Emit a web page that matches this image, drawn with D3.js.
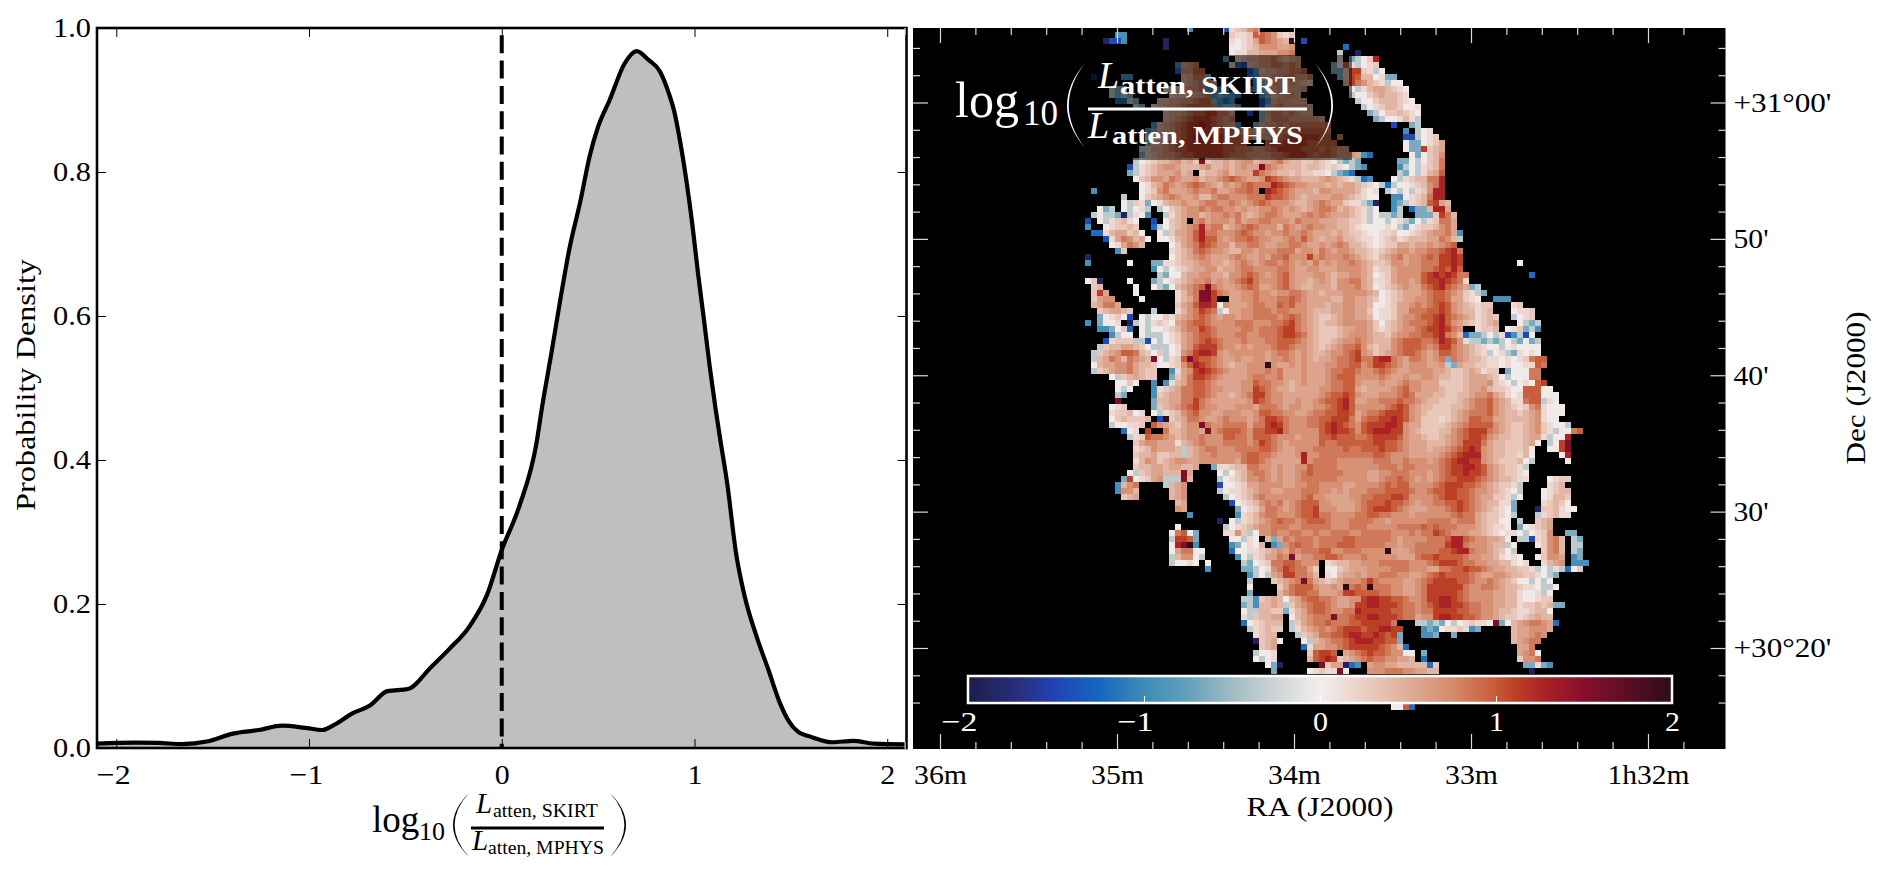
<!DOCTYPE html>
<html><head><meta charset="utf-8">
<style>html,body{margin:0;padding:0;background:#fff;overflow:hidden}
text{font-family:"Liberation Serif",serif}</style>
<script src="https://cdnjs.cloudflare.com/ajax/libs/d3/7.8.5/d3.min.js"></script>
</head><body><svg id="fig" width="1887" height="876"></svg>
<script>
// Kernel density of the attenuated luminosity ratio
const densityX=[-2.1,-1.9,-1.78,-1.66,-1.53,-1.395,-1.26,-1.14,-1.02,-.93,-.87,-.775,-.684,-.593,-.486,-.365,-.274,-.167,-.076,0,.09,.18,.21,.258,.304,.35,.41,.456,.5,.56,.638,.7,.76,.82,.866,.897,.927,.957,.988,1.018,1.049,1.079,1.11,1.134,1.17,1.216,1.261,1.322,1.383,1.444,1.49,1.535,1.61,1.717,1.824,1.93,2.1];
const densityY=[.006,.0074,.007,.0055,.009,.02,.025,.031,.028,.025,.032,.048,.059,.079,.082,.113,.137,.169,.213,.275,.335,.423,.475,.549,.623,.692,.762,.822,.863,.9,.951,.968,.956,.94,.91,.882,.84,.79,.729,.66,.595,.53,.47,.428,.367,.27,.21,.155,.109,.062,.037,.023,.015,.008,.01,.006,.005];
const xTicks=[-2,-1,0,1,2], yTicks=[0,.2,.4,.6,.8,1];
const raMajor=[36,35,34,33,32], raLabels=["36m","35m","34m","33m","1h32m"];
const decMajor=[60,50,40,30,20], decLabels=["+31°00'","50'","40'","30'","+30°20'"];
const barTicks=[-2,-1,0,1,2];
// Diverging palette: data value -> colour
const paletteV=[-2,-1.7,-1.5,-1.25,-1,-.75,-.5,-.25,0,.25,.5,.75,1,1.1,1.3,1.5,1.75,2];
const paletteC=["#1d1d4b","#28307f","#2243b6","#1567bd","#3e8bb8","#64a0bb","#a0bcc4","#d0d5d6","#f2eeee","#ebcfc3","#dfae9a","#d58b6d","#c65a38","#bd4227","#a81e24","#860f2c","#5a0e24","#2d0c18"];
// One character per map cell; "." is a cell with no data
const cellCodes="abcdef0123456789xy";
const cellValues=[-1.9,-1.45,-1.2,-.95,-.65,-.35,.03,.17,.3,.44,.57,.7,.84,.98,1.12,1.28,1.55,2];
// Map rows, top to bottom: [first column, codes] runs
const mapRows=[
[[46,"d"],[52,"b12356"]],
[[34,"dd"],[53,"21127765"],[61,"212"]],
[[32,"abbd"],[42,"a"],[53,"1012476543"],[63,"y"],[65,"b"]],
[[42,"a"],[53,"00123555445"],[72,"c"]],
[[53,"01133444556"],[71,"f"],[74,"a"]],
[[52,"d"],[54,"2344556"],[61,"4345"],[71,"1"],[73,"ef029"]],
[[44,"d456"],[53,"2cb3455"],[60,"66565"],[70,"e0"],[72,"71f012"]],
[[44,"c5577"],[56,"bd34455667"],[70,"ee288"],[75,"21f0"]],
[[30,"a"],[35,"dd"],[45,"3466e"],[56,"cd44556655"],[66,"6"],[71,"e287"],[75,"3301"],[79,"ee"]],
[[45,"345665"],[56,".de4554543"],[66,"2"],[72,"386"],[75,"5321"],[79,"f0"],[81,"0"]],
[[33,"fef"],[42,"2334556ddc"],[52,"c"],[56,"cde345"],[62,"3445"],[73,"0f"],[75,"1344"],[79,"3210"]],
[[33,"fefe"],[43,"2334456ded"],[53,"dc"],[58,"de345"],[63,"54"],[73,"f0"],[75,"0234"],[79,"3321"]],
[[34,"ccfe"],[41,"334455677"],[50,"edcd"],[58,"bd45"],[62,"5444"],[74,"f0"],[76,"0233"],[80,"3210"]],
[[37,"fe"],[40,"2344567777"],[50,"6deed"],[58,"be56"],[62,"55554"],[75,"f0"],[77,"1233"],[81,"2001"]],
[[42,"3445677886"],[52,"64"],[56,"b"],[57,".e5"],[60,"6656544"],[76,"ef"],[78,"0223"],[82,"210"]],
[[42,"3456788876"],[52,"56"],[58,"e46"],[61,"6655"],[65,"5554"],[77,"ef"],[79,"0013"],[83,"1f"]],
[[40,"d345678898"],[50,"7654"],[54,"d"],[57,"e45"],[60,"5656666"],[67,"667"],[80,"b"],[83,"ef"]],
[[39,"de34567888"],[49,"87777"],[54,"6554"],[58,"456567"],[64,"777776"],[82,"d.f01"]],
[[39,"f234567899"],[49,"88877"],[54,"7664"],[58,"557678"],[64,"888877"],[71,"6"],[82,"bbf012"]],
[[39,"e345678888"],[49,"8887777"],[59,"78"],[61,"7888877"],[68,"777"],[82,"0ee0124"]],
[[38,"f244567788"],[48,"88887766655"],[59,"6788887776"],[69,"7655"],[82,"0ee8234"]],
[[38,"e234556778"],[48,"88887666555"],[59,"5667888767"],[69,"765554"],[75,"dc"],[83,"0e0235"]],
[[37,"f012334534","2x23343455","3445643322","3210fefe"],[81,"ee0f0236"]],
[[36,"bf12345543","3345334345","44x6543332","3321210fed"],[81,"df0f1236"]],
[[36,"ef12344453","4.23345344","4865433232","2110fedc"],[81,"fe0f1347"]],
[[37,"0235546544","5344567654","4587654433","3454321fcd"],[80,"0f1233669"]],
[[38,"0134654567","6543545676","6698765544","4343443210"],[78,"fcf00123569"]],
[[30,"d"],[38,"0125644456","5564456676",".987654443","5544443101"],[78,".f0f0f12599"]],
[[35,"f"],[38,"0234565445","3356655566","6877654344","4455432100"],[78,"..dd0123699"]],
[[35,"0f21e01344","5445665565","4567655543","3456544211"],[75,"fea..def12"],[85,"37843"]],
[[31,"0ef"],[35,"0f01f"],[41,"f023455656","6554544556","5454345665"],[71,"34321f0..d"],[81,"f.cee3994"]],
[[30,"f0ffea"],[36,"f10"],[39,"d"],[42,"f134553455","6564345665","4445656544"],[72,"4321f0ffef"],[82,"..eee2863"]],
[[29,"b"],[31,"0f12310"],[40,"b"],[42,"0234.56455","5464556655","5465554443"],[72,"3221f00f01"],[82,"fe0f12664"]],
[[29,"d"],[32,"012232"],[40,"c"],[41,"f023456956","6345676555","3654565544"],[71,"3321000010"],[81,"fe01223564"]],
[[30,"cc"],[32,"1344230"],[41,"0f24457966","5556765545","5655654443"],[71,"4322100112"],[81,"0012345564"],[91,"d"]],
[[32,"b"],[33,"1465340"],[41,"0013457977","5456676554","4565754344"],[71,"5332110123"],[81,"1233344653"],[91,"f"]],
[[33,"014653"],[43,"0245687655","3556654455","6654454565"],[73,"3321012244"],[83,"34454567"]],
[[34,"d2"],[43,"1234676554","3355455566","6455465455"],[73,"4332123455"],[83,"455667896"]],
[[29,"a"],[43,"0234565444","5654454667","5558565556"],[73,"5432134564"],[83,"556768898"]],
[[29,"d"],[36,"0"],[40,"ee1"],[43,"1233455443","4565456656","5454645455"],[73,"6543223554"],[83,"556668898"],[101,"0"]],
[[40,"d0f"],[43,"0123445534","4566555566","5445544455"],[73,"5543122455"],[83,"556678797"]],
[[41,"fe"],[43,"0034455443","5567654567","5444554344"],[73,"5543012455"],[83,"5578989866"],[103,"c"]],
[[29,"02a"],[36,"0"],[40,"ef0"],[43,"1234556454","5678655567","5443454355"],[73,"6643112455"],[83,"4578898761"]],
[[30,"23"],[37,"0"],[40,"0fe"],[43,"034567x654","4567644567","5433444355"],[73,"5643012345"],[83,"4467897654"],[93,"ef"]],
[[30,"284"],[37,"0"],[44,"1356xx8654","4556554556","6544344455"],[74,"5543012344"],[84,"4567765421"],[94,"fe"]],
[[30,"2455"],[38,"0"],[44,"1346xx8..4","4556555667","6544443355"],[74,"4432012344"],[84,"5567764421"],[94,"0"],[97,"ddd"]],
[[30,"34664"],[44,"2457998054","4456655767","5544434455"],[74,"4430012445"],[84,"6567875432"],[94,"122"],[100,"12"]],
[[31,"234432"],[40,"f"],[44,"1356876f04","4556665665","5543334455"],[74,"4420112446"],[84,"6677875433"],[94,"123"],[100,"0112"]],
[[31,"e0120b"],[38,"0f0021"],[44,"3456765455","4556666567","6543223455"],[74,"4430112455"],[84,"6778976543"],[94,"1232"],[100,"f012"]],
[[29,"d"],[31,"e001"],[36,"a"],[37,"f0f1210"],[44,"4567765555","6665556678","6543233455"],[74,"5542023456"],[84,"6678975432"],[94,"1234"],[101,"0fef"]],
[[31,"dde02"],[36,"c"],[38,"0f00123"],[45,"5668765555","6656667886","5432223445"],[75,"5421234556"],[85,"7889865"],[94,"1223"],[99,"012efd"]],
[[33,"d"],[34,"f00"],[38,"0fff012"],[45,"4567765556","6556667887","6432223455"],[75,"5433245566"],[85,"778965"],[91,"3"],[92,"ceef0f1"],[99,"bdfb0"]],
[[32,"b"],[33,"1222f"],[38,"fb0f012"],[45,"4567876555","6555667776","5432234556"],[75,"5433356777"],[85,"6679875"],[92,"1ffefef"],[99,"0fe0ef"]],
[[31,"f23344320fff01"],[45,"4578886554","5455567765","5432345667"],[75,"5323356777"],[85,"6568865432"],[95,"100f010000"]],
[[30,"f23457763202f01"],[45,"5689985455","5555456654","5433455678"],[75,"5423456776"],[85,"5457765432"],[95,"1f01fe1010"]],
[[30,"f346536543"],[40,"x0f12"],[45,"7x87765445","4455455654","5434456678"],[75,"6689965466"],[85,"5456e65433"],[95,"2110101267"],[105,"7"]],
[[30,"0344556433"],[40,"20012"],[45,"5798765434","4555y54454","5444556677"],[75,"5688765455"],[85,"5445fe4332"],[95,"2110100117"],[105,"6"]],
[[30,"f2345564322"],[43,"d"],[44,"1"],[45,"4589876544","4555656444","5444566776"],[75,"5567654455"],[85,"5544322343"],[95,"122.e00066"]],
[[33,"0f234322"],[43,"e"],[44,"2"],[45,"4688765444","4566556444","5444567775"],[75,"5556544544"],[85,"5543322344"],[95,"4320f00066"]],
[[34,"0020"],[40,"d.d"],[43,"13"],[45,"4677654444","5576655434","5444566775"],[75,"4445445655"],[85,"4442222344"],[95,"45210f0107"],[105,"8"]],
[[34,"0f0"],[40,"d123"],[44,"4"],[45,"6677655444","5587654434","4445566774"],[75,"3444456755"],[85,"4443222344"],[95,"5322100777"],[105,"00"]],
[[34,"fe"],[40,"d234"],[44,"4"],[45,"6677654434","5688655444","4445677875"],[75,"4445556764"],[85,"4433223345"],[95,"5643101777"],[105,"000"]],
[[34,"x"],[40,"e3344"],[45,"6686544444","4587655445","4456778974"],[75,"4556667665"],[85,"4332223456"],[95,"6754311677"],[105,"f10"]],
[[33,"012"],[40,"e2345"],[45,"6786554445","5546665455","4455678975"],[75,"5555678754"],[85,"3322233456"],[95,"6754321256"],[105,"1000"]],
[[33,"122301"],[40,"0f123"],[45,"5675544555","4457766554","4566778874"],[75,"5667888754"],[85,"3222234566"],[95,"6754332345"],[105,"1000"]],
[[33,"0232223"],[40,".by"],[43,"23"],[45,"4665445655","5456887655","5667788864"],[75,"6778898754"],[85,"2221234577"],[95,"6644333345"],[105,"100"]],
[[33,"f00112"],[40,"75432"],[45,"455x655666","6466898655","5667898765"],[75,"7888998544"],[85,"2222345677"],[95,"7754322345"],[105,"2100f"]],
[[35,"c"],[36,"01"],[39,"8"],[42,"6"],[43,"3"],[44,"3"],[45,"4554x56777","6577889655","5557898875"],[75,"7899988543"],[85,"2223356788"],[95,"8654322345"],[105,"21f0067"]],
[[36,"f12766543"],[45,"4556555776","6577765554","5557787776"],[75,"6788887544"],[85,"3223456788"],[95,"7543322344"],[105,"1f009"]],
[[37,"24554441"],[45,"3456555666","6568765455","5557667777"],[75,"7788776544"],[85,"4333456888"],[95,"6433222340"],[106,"f08x"]],
[[37,"12354443"],[45,"f345665556","6667765445","5566666766"],[75,"7778776544"],[85,"4344567898"],[95,"543322230"],[106,"008x"]],
[[37,"23342233"],[45,"f345565555","6776654445","9556666666"],[75,"6677655544"],[85,"4445678999"],[95,"54332213"],[103,"0"],[108,"09"]],
[[37,"13542345"],[45,"5445555554","6776544444","9566665555"],[75,"5566655655"],[85,"5456789988"],[95,"54322230"],[103,"f"],[109,"0"]],
[[37,"23344344"],[45,"334"],[50,"e1"],[52,"1233"],[56,"6655454455"],[66,"7666655555"],[76,"5566656655"],[86,"5567889987"],[96,"543221f"]],
[[36,"0f2344333x4"],[51,"0f"],[53,"023"],[56,"5665454456"],[66,"7666665555"],[76,"4455666555"],[86,"4567889887"],[96,"5432210"]],
[[35,"e801245fffx3"],[51,"f0"],[53,"123"],[56,"5565454456"],[66,"6666655555"],[76,"4456676545"],[86,"4567788876"],[96,"5433211"],[106,"0122"]],
[[34,"d356"],[42,"f345"],[51,"b0"],[53,"012"],[56,"4455554455"],[66,"6655554455"],[76,"5567677555"],[86,"5678887765"],[96,"43221f"],[106,"123"]],
[[34,"d553"],[43,"345"],[51,"f01"],[54,"123"],[57,"4554455566"],[67,"6554545556"],[77,"6677776556"],[87,"7788776554"],[97,"3210"],[101,"f"],[105,"01233"]],
[[35,"234"],[43,"345"],[52,"f0"],[54,"123"],[57,"5655555567"],[67,"5544445566"],[77,"7778875555"],[87,"6788776544"],[97,"221"],[100,"f0"],[105,"01332"]],
[[44,"34"],[53,"b0"],[55,"123"],[58,"5656456777"],[68,"5544445677"],[78,"7877654556"],[88,"6778765433"],[98,"11"],[100,"e"],[105,"1232"],[109,"0"]],
[[44,"54"],[54,"e012"],[58,"4665456778"],[68,"5554445678"],[78,"8876544455"],[88,"5678765432"],[98,"10"],[100,"e"],[104,"a"],[105,"2231"],[109,"00"]],
[[46,"d"],[54,"d12"],[57,"3"],[58,"5665556778"],[68,"6655556677"],[78,"6655545555"],[88,"5567664322"],[98,"10"],[100,"f"],[104,"f123"],[108,"11"]],
[[51,"a"],[53,"0f123"],[58,"4567665677"],[68,"7655566665"],[78,"5455555566"],[88,"6656664322"],[98,"00"],[101,"f"],[104,"234"]],
[[44,"0"],[52,"f01234"],[58,"5566655666"],[68,"6655566655"],[78,"5556666767"],[88,"6665554321"],[98,"1"],[99,"0"],[101,"e"],[102,"0123"],[106,"4"]],
[[43,"0670e"],[52,"1152f0"],[58,"5565566556"],[68,"5566655666"],[78,"6655565668"],[88,"7655544321"],[98,"0110"],[102,"f012"],[106,"5"],[109,"ee"]],
[[43,"f887e"],[53,"00f10"],[59,"3"],[60,"e4"],[62,"6566656666"],[72,"7766666654"],[82,"5555666799"],[92,"7655443"],[99,"0"],[101,"ffb"],[104,"1256"],[108,"3"],[110,"fe"]],
[[43,"0"],[44,"9xy"],[47,"d"],[53,"de010"],[58,"3"],[60,"de"],[62,"5676656667"],[72,"7766666554"],[82,"5566666899"],[92,"6555433"],[99,"f0"],[104,"0256"],[108,"3"],[110,"ff"]],
[[43,"046600"],[53,"c0011"],[58,"2"],[59,"3"],[60,"454"],[63,"6566677556"],[73,"665555y444"],[83,"5666677899"],[93,"655432"],[99,"0f"],[105,"256"],[108,"3"],[110,"fe"]],
[[43,"f3550f"],[54,"d"],[55,"0f"],[57,"12"],[59,"44"],[61,"6"],[62,"5"],[63,"x"],[64,"4556677655"],[74,"5655555444"],[84,"6778777765"],[94,"5443"],[98,"10"],[100,"10"],[104,"0255"],[108,"4"],[110,"de"]],
[[43,"f0010"],[49,"0"],[55,"fe"],[57,"012"],[60,"66776555"],[69,"1233445"],[76,"5566666555"],[86,"6788876655"],[96,"4433"],[100,"10"],[102,"1"],[105,"1345"],[110,"dd"],[112,"d"]],
[[49,"d"],[55,"e"],[56,"ef"],[58,"01"],[60,"5687664"],[67,"2"],[69,"0"],[70,"0"],[71,"2344455"],[78,"5566655544"],[88,"6677877654"],[98,"433221"],[104,"f0f1"],[108,"f"],[109,"c"],[110,"02"]],
[[56,"d"],[57,"f"],[58,"0f"],[60,"4588665"],[67,"3"],[69,"1"],[70,"0"],[71,"3445"],[75,"4556665544"],[85,"5678777765"],[95,"4455433221"],[105,"0fe"]],
[[56,"f"],[60,"23456x6"],[67,"4323455"],[74,"56"],[76,"8"],[77,"6555544"],[84,"5678888776"],[94,"5565432"],[101,"0"],[102,"0f0f0"]],
[[56,"0"],[61,"2467775"],[68,"4454"],[72,"y"],[73,"676"],[76,"y"],[77,"6665544"],[84,"5688888865"],[94,"5665433211"],[104,"0ff"],[107,"0"]],
[[56,"e"],[61,"3567766"],[68,"4445"],[72,"8"],[73,"877"],[76,"7"],[77,"766554"],[83,"4"],[84,"5688888765"],[94,"5554433"],[101,"100"],[104,"1f0"]],
[[55,"ff"],[57,"d"],[58,"2343"],[62,"0"],[63,"34677"],[68,"6654455"],[75,"8998877"],[82,"65"],[84,"5688998765"],[94,"5554433"],[101,"1001"],[105,"22"]],
[[55,"ef"],[57,"d"],[58,"3343"],[62,"f"],[63,"24567"],[68,"7654458"],[75,"8998887"],[82,"66"],[84,"5678998876"],[94,"6554433"],[101,"1223"],[105,"23ee"]],
[[55,"0f"],[57,"f"],[58,"3322"],[62,"e"],[63,"13467"],[68,"7655669"],[75,"8888877"],[82,"66"],[84,"5668888776"],[94,"6554332"],[101,"1123"],[105,"3"],[106,"0"]],
[[55,"1"],[56,"f"],[57,"2"],[58,"3344"],[63,"0"],[64,"3456"],[68,"66"],[70,"x"],[71,"667"],[74,"8"],[75,"8998887"],[82,"66"],[84,"4558998877"],[94,"6554322"],[101,"1234"],[105,"33"]],
[[55,"c0"],[57,"123"],[60,"33"],[63,"f"],[64,"2456"],[68,"67"],[70,"6"],[71,"667788"],[77,"888"],[80,"6"],[84,"ffefe0f012"],[94,"110"],[97,"x"],[98,"e"],[99,"0"],[100,"3456654"],[107,"c"]],
[[56,"f123"],[60,"22"],[63,"f"],[64,"13456"],[69,"5678887"],[76,"8899"],[80,"88"],[85,"ded"],[88,"0112"],[92,"1"],[93,"de"],[100,"3445554"]],
[[57,"123"],[60,"3"],[64,"f"],[65,"2346"],[69,"6778998"],[76,"8987"],[80,"8"],[81,"e"],[85,"dde"],[90,"e"],[100,"344565"]],
[[57,"a234"],[61,"0"],[65,"0f"],[67,"3456678999"],[77,"8877"],[81,"e"],[100,"34566"]],
[[58,"234"],[65,"c"],[66,"1"],[67,"4455"],[71,"6788"],[75,"8887"],[79,"65"],[81,"3"],[82,"c"],[101,"446"]],
[[57,"f001"],[66,"27887"],[72,"4567"],[76,"8776"],[80,"55"],[82,"00"],[85,"e"],[101,"456"],[104,"0"]],
[[57,"0f01"],[66,"378"],[69,"98"],[71,"2"],[72,"3456"],[76,"76655443"],[85,"c"],[101,"2556"]],
[[59,"0e"],[61,"a"],[68,"x244"],[72,"a"],[73,"c"],[74,"d"],[76,"4554433"],[83,"3"],[84,"33"],[86,"c"],[87,"2"],[102,"ee1ed"]],
[[60,"e"],[66,"012"],[69,"11"],[71,"x"],[72,"0"],[76,"55"],[78,"5666554433"],[103,"a"]],
[],[],[],[],[],
[[80,"007c"]]
];
const densityTitle={num:"atten, SKIRT",den:"atten, MPHYS"};

const svg=d3.select("#fig");
const W={l:97,r:906.5,t:28,b:748};
const M={l:913,r:1725.5,t:28,b:749};
const x=d3.scaleLinear().domain([-2.1,2.1]).range([W.l,W.r]);
const y=d3.scaleLinear().domain([0,1]).range([W.b,W.t]);
const pts=densityX.map((v,i)=>[v,densityY[i]]);
const FS=28;

// ---- density panel ----
const left=svg.append("g");
left.append("path").datum(pts).attr("fill","#bfbfbf")
  .attr("d",d3.area().x(d=>x(d[0])).y0(y(0)).y1(d=>y(d[1])).curve(d3.curveMonotoneX));
left.append("line").attr("x1",x(0)).attr("x2",x(0)).attr("y1",y(1)).attr("y2",y(0))
  .attr("stroke","#000").attr("stroke-width",4).attr("stroke-dasharray","18 7.3").attr("stroke-dashoffset",18);
left.append("path").datum(pts).attr("fill","none").attr("stroke","#000").attr("stroke-width",4.2)
  .attr("d",d3.line().x(d=>x(d[0])).y(d=>y(d[1])).curve(d3.curveMonotoneX));

function styleAxis(g,color){
  g.select(".domain").remove();
  g.selectAll("line").attr("stroke",color).attr("stroke-width",1);
  g.selectAll("text").attr("font-size",FS).attr("fill",color);
}
const fmtX=d=>d<0?"\u2212"+(-d):String(d);
left.append("g").attr("transform",`translate(0,${W.b})`)
  .call(d3.axisBottom(x).tickValues(xTicks).tickSize(-9).tickPadding(16).tickFormat(fmtX))
  .call(g=>{styleAxis(g,"#000");g.selectAll("text").attr("textLength",d=>d<0?34:15).attr("lengthAdjust","spacingAndGlyphs").attr("dx",d=>d<0?-3:0);});
left.append("g").attr("transform",`translate(0,${W.t})`)
  .call(d3.axisTop(x).tickValues(xTicks).tickSize(-9).tickFormat(""))
  .call(g=>styleAxis(g,"#000"));
left.append("g").attr("transform",`translate(${W.l},0)`)
  .call(d3.axisLeft(y).tickValues(yTicks).tickSize(-9).tickPadding(6).tickFormat(d3.format(".1f")))
  .call(g=>{styleAxis(g,"#000");g.selectAll("text").attr("textLength",38).attr("lengthAdjust","spacingAndGlyphs");});
left.append("g").attr("transform",`translate(${W.r},0)`)
  .call(d3.axisRight(y).tickValues(yTicks).tickSize(-9).tickFormat(""))
  .call(g=>styleAxis(g,"#000"));
left.append("rect").attr("x",W.l).attr("y",W.t).attr("width",W.r-W.l).attr("height",W.b-W.t)
  .attr("fill","none").attr("stroke","#000").attr("stroke-width",2.6);
left.append("text").attr("transform","translate(35,385) rotate(-90)").attr("text-anchor","middle")
  .attr("font-size",FS).attr("textLength",252).attr("lengthAdjust","spacingAndGlyphs").text("Probability Density");

// Stacked fraction inside log10( ... ) with drawn, tapered parentheses
function ratioLabel(g,o){
  g.append("text").attr("x",o.logX).attr("y",o.logY).attr("font-size",o.logFS).attr("fill",o.c).text("log");
  g.append("text").attr("x",o.subX).attr("y",o.subY).attr("font-size",o.subFS).attr("fill",o.c).text("10");
  const mid=(o.pTop+o.pBot)/2;
  const paren=(x0,s)=>`M${x0},${o.pTop} Q${x0+s*o.pB},${mid} ${x0},${o.pBot} Q${x0+s*(o.pB-o.pW*2)},${mid} ${x0},${o.pTop}Z`;
  g.append("path").attr("d",paren(o.pL,-1)).attr("fill",o.c);
  g.append("path").attr("d",paren(o.pR,1)).attr("fill",o.c);
  g.append("rect").attr("x",o.barL).attr("y",o.barY-o.barH/2).attr("width",o.barR-o.barL).attr("height",o.barH).attr("fill",o.c);
  const row=(lx,ly,sx,sy,sw,t)=>{
    g.append("text").attr("x",lx).attr("y",ly).attr("font-size",o.LFS).attr("font-style","italic").attr("fill",o.c).text("L");
    g.append("text").attr("x",sx).attr("y",sy).attr("font-size",o.sFS).attr("font-weight",o.bold?"bold":"normal").attr("fill",o.c)
     .attr("textLength",sw).attr("lengthAdjust","spacingAndGlyphs").text(t);
  };
  row(o.nLx,o.nLy,o.nSx,o.nSy,o.nSw,densityTitle.num);
  row(o.dLx,o.dLy,o.dSx,o.dSy,o.dSw,densityTitle.den);
}
ratioLabel(left.append("g"),{c:"#000",logX:372,logY:832,logFS:37,subX:419,subY:840,subFS:26,
  pL:469,pR:610,pB:32,pTop:793,pBot:857,pW:1.6,barL:471,barR:604,barY:828,barH:3,
  LFS:29,sFS:19,bold:false,nLx:476,nLy:813,nSx:493,nSy:817,nSw:105,dLx:472,dLy:850,dSx:488,dSy:854,dSw:116});

// ---- map panel ----
const right=svg.append("g");
right.append("clipPath").attr("id","mapClip").append("rect").attr("x",M.l).attr("y",M.t).attr("width",M.r-M.l).attr("height",M.b-M.t);
right.append("rect").attr("x",M.l).attr("y",M.t).attr("width",M.r-M.l).attr("height",M.b-M.t).attr("fill","#000");
const colour=d3.scaleLinear().domain(paletteV).range(paletteC);
const col=d3.scaleLinear().domain([0,1]).range([911.3,917.3]);
const row=d3.scaleLinear().domain([0,1]).range([26,32]);
const cells=[];
mapRows.forEach((segs,r)=>segs.forEach(seg=>{
  const s=seg.slice(1).join("");
  [...s].forEach((ch,i)=>{const k=cellCodes.indexOf(ch); if(k>=0) cells.push({c:seg[0]+i,r,v:cellValues[k]});});
}));
right.append("g").attr("clip-path","url(#mapClip)").attr("shape-rendering","crispEdges")
  .selectAll("rect").data(cells).join("rect")
  .attr("x",d=>col(d.c)).attr("y",d=>row(d.r)).attr("width",col(1)-col(0)).attr("height",row(1)-row(0))
  .attr("fill",d=>colour(d.v));

// Backing box behind the map's title
right.append("rect").attr("x",950).attr("y",55).attr("width",402).attr("height",105).attr("fill","#000").attr("opacity",.5);
ratioLabel(right.append("g"),{c:"#fff",logX:955,logY:117,logFS:50,subX:1023,subY:125,subFS:35,
  pL:1085,pR:1315,pB:36,pTop:63,pBot:148,pW:1.8,barL:1088,barR:1307,barY:109,barH:3,
  LFS:38,sFS:26,bold:true,nLx:1098,nLy:88,nSx:1120,nSy:94,nSw:175,dLx:1088,dLy:138,dSx:1112,dSy:144,dSw:191});

// Colour bar
const grad=svg.append("defs").append("linearGradient").attr("id","barGrad");
paletteV.forEach((v,i)=>grad.append("stop").attr("offset",((v+2)/4*100)+"%").attr("stop-color",paletteC[i]));
const bar=d3.scaleLinear().domain([-2,2]).range([968,1672]);
right.append("rect").attr("x",968).attr("y",676).attr("width",704).attr("height",27).attr("fill","url(#barGrad)").attr("stroke","#fff").attr("stroke-width",2.5);
right.append("g").attr("transform","translate(0,702)")
  .call(d3.axisTop(bar).tickValues(barTicks.slice(1,4)).tickSize(6).tickFormat(""))
  .call(g=>{g.select(".domain").remove();g.selectAll("line").attr("stroke","#fff").attr("stroke-width",1);});
right.append("g").attr("transform","translate(0,703)")
  .call(d3.axisBottom(bar).tickValues(barTicks).tickSize(0).tickPadding(8).tickFormat(fmtX))
  .call(g=>{g.select(".domain").remove();g.selectAll("text").attr("font-size",FS).attr("fill","#fff")
    .attr("textLength",d=>d<0?36:15).attr("lengthAdjust","spacingAndGlyphs").attr("dx",d=>d<0?-9:0);});

// Sky-coordinate axes: RA in minutes of time, Dec in arcminutes
const ra=d3.scaleLinear().domain([36,32]).range([940,1648]);
const dec=d3.scaleLinear().domain([60,20]).range([102.5,648]);
const raMinor=d3.range(36.2,31.7,-.2).filter(v=>Math.abs(v-Math.round(v))>.05&&ra(v)<M.r-1);
const decMinor=d3.range(66,14,-2).filter(v=>v%10!==0&&dec(v)>M.t+2&&dec(v)<M.b-2);
const tick="#d9d9d9";
const drawTicks=(axis,tr,values,size,fmt)=>right.append("g").attr("transform",tr)
  .call(axis.tickValues(values).tickSize(size).tickFormat(fmt||""))
  .call(g=>{g.select(".domain").remove();g.selectAll("line").attr("stroke",tick).attr("stroke-width",1.2);});
drawTicks(d3.axisTop(ra),`translate(0,${M.b})`,raMajor,15);
drawTicks(d3.axisTop(ra),`translate(0,${M.b})`,raMinor,7);
drawTicks(d3.axisBottom(ra),`translate(0,${M.t})`,raMajor,15);
drawTicks(d3.axisBottom(ra),`translate(0,${M.t})`,raMinor,7);
drawTicks(d3.axisRight(dec),`translate(${M.l},0)`,decMajor,15);
drawTicks(d3.axisRight(dec),`translate(${M.l},0)`,decMinor,7);
drawTicks(d3.axisLeft(dec),`translate(${M.r},0)`,decMajor,15);
drawTicks(d3.axisLeft(dec),`translate(${M.r},0)`,decMinor,7);
right.append("g").attr("transform",`translate(0,${M.b})`)
  .call(d3.axisBottom(ra).tickValues(raMajor).tickSize(0).tickPadding(15).tickFormat((d,i)=>raLabels[i]))
  .call(g=>{g.select(".domain").remove();g.selectAll("text").attr("font-size",FS).attr("fill","#000")
    .attr("textLength",(d,i)=>i===4?82:53).attr("lengthAdjust","spacingAndGlyphs");});
right.append("g").attr("transform",`translate(${M.r},0)`)
  .call(d3.axisRight(dec).tickValues(decMajor).tickSize(0).tickPadding(8).tickFormat((d,i)=>decLabels[i]))
  .call(g=>{g.select(".domain").remove();g.selectAll("text").attr("font-size",FS).attr("fill","#000")
    .attr("textLength",(d,i)=>i===0||i===4?98:35).attr("lengthAdjust","spacingAndGlyphs");});
right.append("text").attr("x",1320).attr("y",816).attr("text-anchor","middle").attr("font-size",FS).attr("textLength",147).attr("lengthAdjust","spacingAndGlyphs").text("RA (J2000)");
right.append("text").attr("transform","translate(1865,388) rotate(-90)").attr("text-anchor","middle").attr("font-size",FS).attr("textLength",153).attr("lengthAdjust","spacingAndGlyphs").text("Dec (J2000)");
</script></body></html>
